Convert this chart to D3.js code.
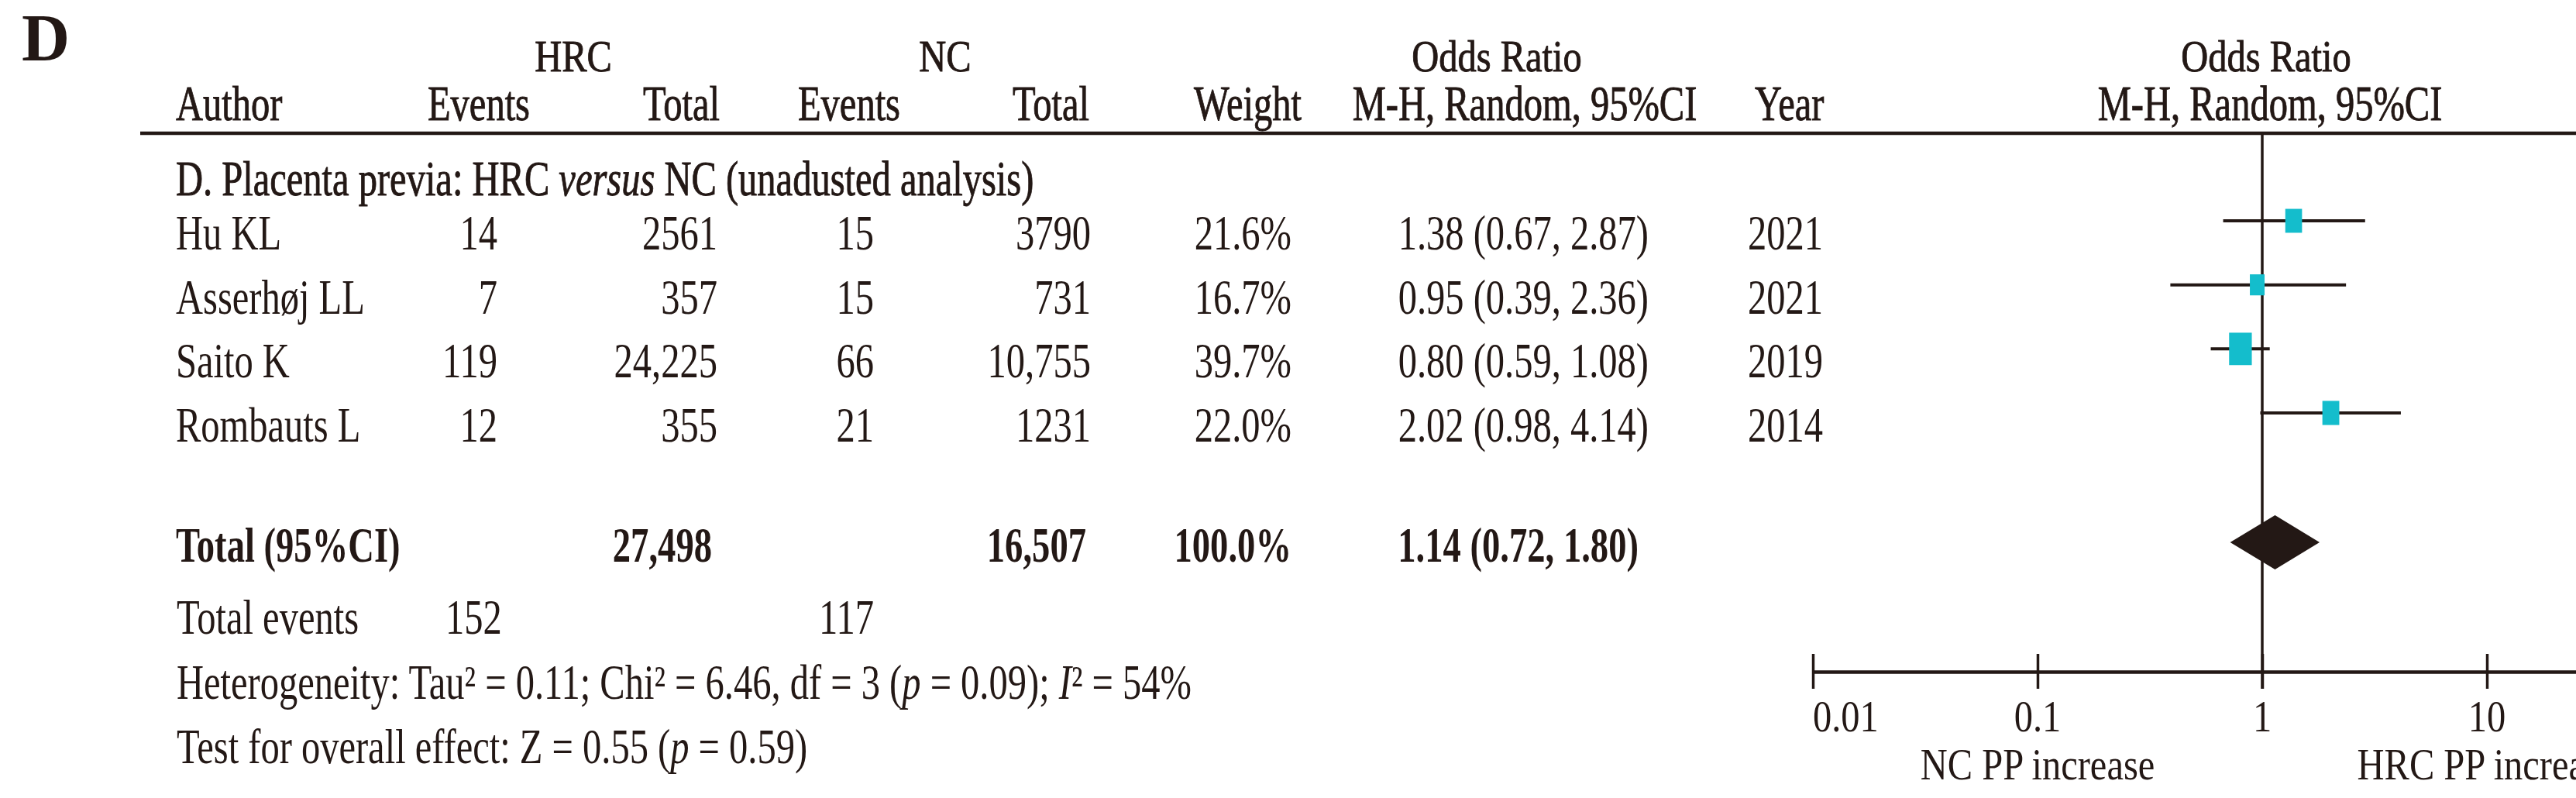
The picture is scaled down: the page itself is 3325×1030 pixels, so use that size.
<!DOCTYPE html>
<html>
<head>
<meta charset="utf-8">
<script src="https://cdn.jsdelivr.net/npm/d3@7"></script>
<style>
  body { margin: 0; background: #fff; }
  svg { display: block; }
</style>
</head>
<body>
<div class="graph"></div>
<script>
// study rows
var authors = ["Hu KL", "Asserhøj LL", "Saito K", "Rombauts L"];
var hrcEvents = [14, 7, 119, 12];
var hrcTotal = [2561, 357, 24225, 355];
var ncEvents = [15, 15, 66, 21];
var ncTotal = [3790, 731, 10755, 1231];
var weights = [21.6, 16.7, 39.7, 22.0];
var orEst = [1.38, 0.95, 0.80, 2.02];
var orLow = [0.67, 0.39, 0.59, 0.98];
var orHigh = [2.87, 2.36, 1.08, 4.14];
var years = [2021, 2021, 2019, 2014];

// pooled result
var pooledOR = [1.14, 0.72, 1.80];
var pooledTotals = [27498, 16507];
var pooledWeight = 100.0;
var totalEvents = [152, 117];

// the panel is cropped on the right, so 100 is not shown
var axisTicks = [0.01, 0.1, 1, 10];
var axisLabels = ["NC PP increase", "HRC PP increase"];

var width = 3325;
var height = 1030;
var ink = "#231815";
var boxColor = "#14bdcc";
var SX = 0.77;     // the figure is horizontally squeezed
var SXB = 0.74;

var svg = d3.select(".graph").append("svg")
  .attr("width", width)
  .attr("height", height)
  .style("font-family", "'Liberation Serif', serif")
  .style("font-size", "63px")
  .attr("fill", ink);

function txt(x, y, anchor, opts) {
  opts = opts || {};
  var sx = opts.bold ? SXB : SX;
  if (opts.size) sx = sx * 63 / opts.size;
  var t = svg.append("text")
    .attr("transform", "translate(" + x + "," + y + ") scale(" + sx + ",1)")
    .attr("text-anchor", anchor);
  if (opts.bold) t.attr("font-weight", "bold");
  if (opts.semi) t.attr("stroke", ink).attr("stroke-width", 0.9);
  if (opts.size) t.style("font-size", opts.size + "px");
  return t;
}
function put(x, y, anchor, s, opts) {
  return txt(x, y, anchor, opts).text(s);
}
function parts(x, y, anchor, list, opts) {
  var t = txt(x, y, anchor, opts);
  list.forEach(function (p) {
    var sp = t.append("tspan").text(p[0]);
    if (p[1]) sp.attr("font-style", "italic");
  });
  return t;
}

var fmtN = function (n) { return n >= 10000 ? d3.format(",")(n) : String(n); };
var fmt2 = d3.format(".2f");
var orText = function (e, l, h) { return fmt2(e) + " (" + fmt2(l) + ", " + fmt2(h) + ")"; };

// panel letter
svg.append("text").attr("x", 28).attr("y", 78)
  .attr("font-weight", "bold").style("font-size", "86px").text("D");

// headers
var semiTop = { semi: true, size: 56 };
put(740, 92, "middle", "HRC", semiTop);
put(1220, 92, "middle", "NC", semiTop);
put(1932, 92, "middle", "Odds Ratio", semiTop);
put(2925, 92, "middle", "Odds Ratio", semiTop);

var semi = { semi: true };
put(227, 155, "start", "Author", semi);
put(684, 155, "end", "Events", semi);
put(929, 155, "end", "Total", semi);
put(1162, 155, "end", "Events", semi);
put(1406, 155, "end", "Total", semi);
put(1680, 155, "end", "Weight", semi);
put(1968, 155, "middle", "M-H, Random, 95%CI", semi);
put(2265, 155, "start", "Year", semi);
put(2930, 155, "middle", "M-H, Random, 95%CI", semi);

svg.append("line")
  .attr("x1", 181).attr("x2", width)
  .attr("y1", 172).attr("y2", 172)
  .attr("stroke", ink).attr("stroke-width", 4.5);

parts(227, 252, "start",
  [["D. Placenta previa: HRC "], ["versus", true], [" NC (unadusted analysis)"]], semi);

// rows
var y = d3.scalePoint().domain(authors).range([322, 570]);
var x = d3.scaleLog().domain([0.01, 100]).range([2340, 3500]);
var boxH = d3.scaleSqrt().domain([0, 40]).range([0, 42]);

authors.forEach(function (a, i) {
  var yy = y(a);
  put(227, yy, "start", a);
  put(642, yy, "end", fmtN(hrcEvents[i]));
  put(926, yy, "end", fmtN(hrcTotal[i]));
  put(1128, yy, "end", fmtN(ncEvents[i]));
  put(1408, yy, "end", fmtN(ncTotal[i]));
  put(1667, yy, "end", weights[i].toFixed(1) + "%");
  put(2128, yy, "end", orText(orEst[i], orLow[i], orHigh[i]));
  put(2256, yy, "start", years[i]);
});

// total rows
var yTot = 725;
put(227, yTot, "start", "Total (95%CI)", { bold: true });
put(919, yTot, "end", fmtN(pooledTotals[0]), { bold: true });
put(1402, yTot, "end", fmtN(pooledTotals[1]), { bold: true });
put(1667, yTot, "end", pooledWeight.toFixed(1) + "%", { bold: true });
put(2115, yTot, "end", orText(pooledOR[0], pooledOR[1], pooledOR[2]), { bold: true });

put(228, 818, "start", "Total events");
put(575, 818, "start", totalEvents[0]);
put(1057, 818, "start", totalEvents[1]);

parts(228, 902, "start",
  [["Heterogeneity: Tau² = 0.11; Chi² = 6.46, df = 3 ("], ["p", true], [" = 0.09); "], ["I", true], ["² = 54%"]]);
parts(228, 985, "start",
  [["Test for overall effect: Z = 0.55 ("], ["p", true], [" = 0.59)"]]);

// forest plot
var plot = svg.append("g");

plot.append("line")
  .attr("x1", x(1)).attr("x2", x(1))
  .attr("y1", 172).attr("y2", 889)
  .attr("stroke", ink).attr("stroke-width", 3.5);

authors.forEach(function (a, i) {
  var cy = y(a) - 37;
  plot.append("line")
    .attr("x1", x(orLow[i])).attr("x2", x(orHigh[i]))
    .attr("y1", cy).attr("y2", cy)
    .attr("stroke", ink).attr("stroke-width", 4);
  var h = boxH(weights[i]);
  var w = h * 0.7;
  plot.append("rect")
    .attr("x", x(orEst[i]) - w / 2).attr("y", cy - h / 2)
    .attr("width", w).attr("height", h)
    .attr("fill", boxColor);
});

var dy = yTot - 25;
plot.append("path")
  .attr("d", "M" + x(pooledOR[1]) + "," + dy +
             "L" + x(pooledOR[0]) + "," + (dy - 35) +
             "L" + x(pooledOR[2]) + "," + dy +
             "L" + x(pooledOR[0]) + "," + (dy + 35) + "Z")
  .attr("fill", ink);

// axis
var axisY = 867;
var axisG = plot.append("g").attr("transform", "translate(0," + axisY + ")");
d3.axisBottom(x).tickValues(axisTicks).tickSize(0).tickFormat("")(axisG);
axisG.select(".domain").attr("stroke", ink).attr("stroke-width", 4.5);
axisG.selectAll(".tick line")
  .attr("y1", -23).attr("y2", 22)
  .attr("stroke", ink).attr("stroke-width", 3.5);

var small = { size: 56 };
axisTicks.forEach(function (t, i) {
  put(x(t), 944, i === 0 ? "start" : "middle", String(t), small);
});
put(x(0.1), 1006, "middle", axisLabels[0], small);
put(x(10), 1006, "middle", axisLabels[1], small);
</script>
</body>
</html>
